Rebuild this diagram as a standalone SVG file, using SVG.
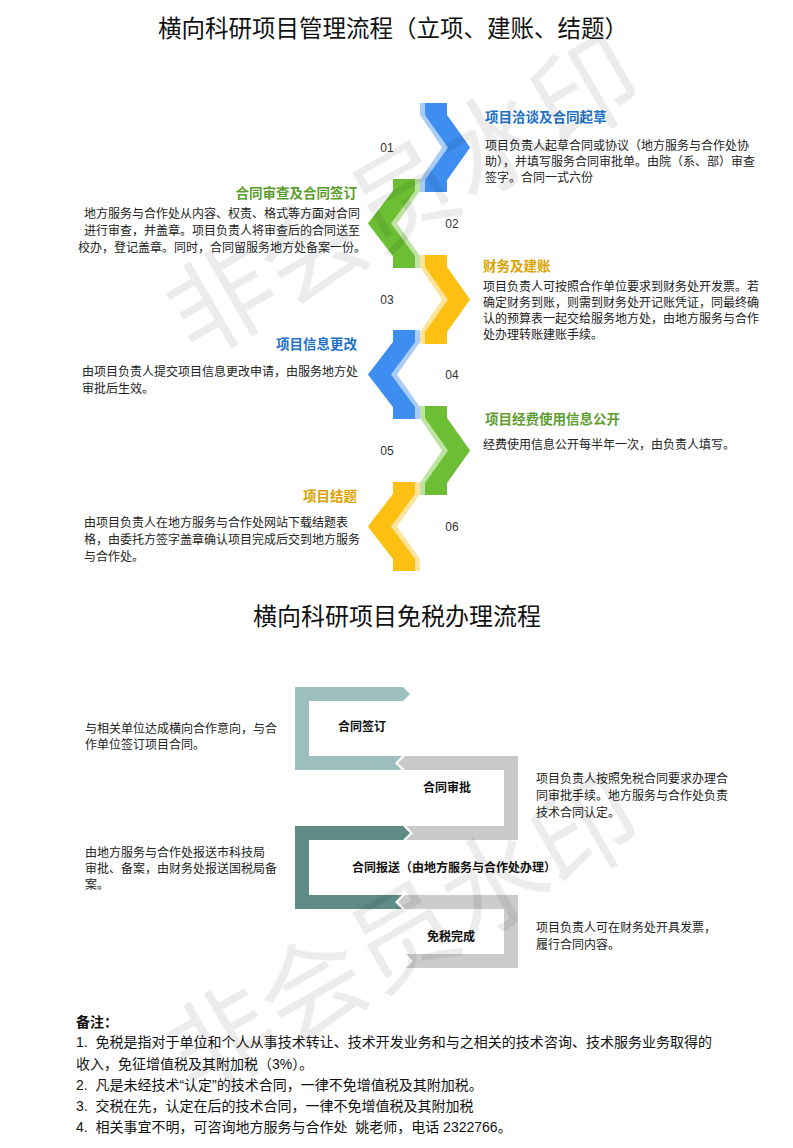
<svg xmlns="http://www.w3.org/2000/svg" width="793" height="1148" viewBox="0 0 793 1148">
<style>
text{font-family:"Liberation Sans","Noto Sans CJK SC",sans-serif;fill:#222}
.t1{font-size:23.5px;fill:#111}
.h{font-size:13.5px;font-weight:bold}
.b{font-size:12px}
.n{font-size:12px;fill:#333}
.hb{fill:#1f72c8}.hg{fill:#5c9e2e}.hy{fill:#d9a400}
.lb{fill:#a9cdf7}.db{fill:#3d8ef0}
.lg{fill:#bfe3a3}.dg{fill:#6cbf35}
.ly{fill:#fde49c}.dy{fill:#fcbf12}
.fl{font-size:12px;font-weight:bold;fill:#111}
.nt{font-size:14px;fill:#111}
.wm{font-size:105px;fill:#000;fill-opacity:0.075}
</style>
<defs>
<polygon id="rl" points="420,0 447,0 447,12 470,44.5 447,77 447,89 420,89 420,77 442,44.5 420,12"/>
<polygon id="rd" points="425,0 447,0 447,12 470,44.5 447,77 447,89 425,89 425,77 448,44.5 425,12"/>
<polygon id="ll" points="420,0 393,0 393,12 368,44.5 393,77 393,89 420,89 420,77 397,44.5 420,12"/>
<polygon id="ld" points="415,0 393,0 393,12 368,44.5 393,77 393,89 415,89 415,77 391,44.5 415,12"/>
</defs>
<rect width="793" height="1148" fill="#fff"/>
<text class="t1" x="393" y="37" text-anchor="middle">横向科研项目管理流程（立项、建账、结题）</text>

<g id="connectors">
<g id="seg1" transform="translate(0,103)"><use href="#rl" class="lb"/><use href="#rd" class="db"/></g>
<g id="seg2" transform="translate(0,179)"><use href="#ll" class="lg"/><use href="#ld" class="dg"/></g>
<g id="seg3" transform="translate(0,255)"><use href="#rl" class="ly"/><use href="#rd" class="dy"/></g>
<g id="seg4" transform="translate(0,330)"><use href="#ll" class="lb"/><use href="#ld" class="db"/></g>
<g id="seg5" transform="translate(0,406)"><use href="#rl" class="lg"/><use href="#rd" class="dg"/></g>
<g id="seg6" transform="translate(0,482)"><use href="#ll" class="ly"/><use href="#ld" class="dy"/></g>
</g>

<g id="step01">
<text class="n" x="387" y="152" text-anchor="middle">01</text>
<text class="h hb" x="485" y="122">项目洽谈及合同起草</text>
<text class="b" x="485" y="150">项目负责人起草合同或协议（地方服务与合作处协</text>
<text class="b" x="485" y="166">助），并填写服务合同审批单。由院（系、部）审查</text>
<text class="b" x="485" y="182">签字。合同一式六份</text>
</g>
<g id="step02">
<text class="n" x="452" y="228" text-anchor="middle">02</text>
<text class="h hg" x="357" y="198" text-anchor="end">合同审查及合同签订</text>
<text class="b" x="222" y="218" text-anchor="middle">地方服务与合作处从内容、权责、格式等方面对合同</text>
<text class="b" x="222" y="235" text-anchor="middle">进行审查，并盖章。项目负责人将审查后的合同送至</text>
<text class="b" x="222" y="252" text-anchor="middle">校办，登记盖章。同时，合同留服务地方处备案一份。</text>
</g>
<g id="step03">
<text class="n" x="387" y="304" text-anchor="middle">03</text>
<text class="h hy" x="483" y="271">财务及建账</text>
<text class="b" x="483" y="291">项目负责人可按照合作单位要求到财务处开发票。若</text>
<text class="b" x="483" y="307">确定财务到账，则需到财务处开记账凭证，同最终确</text>
<text class="b" x="483" y="323">认的预算表一起交给服务地方处，由地方服务与合作</text>
<text class="b" x="483" y="339">处办理转账建账手续。</text>
</g>
<g id="step04">
<text class="n" x="452" y="379" text-anchor="middle">04</text>
<text class="h hb" x="357" y="349" text-anchor="end">项目信息更改</text>
<text class="b" x="82" y="376">由项目负责人提交项目信息更改申请，由服务地方处</text>
<text class="b" x="82" y="393">审批后生效。</text>
</g>
<g id="step05">
<text class="n" x="387" y="455" text-anchor="middle">05</text>
<text class="h hg" x="485" y="424">项目经费使用信息公开</text>
<text class="b" x="483" y="449">经费使用信息公开每半年一次，由负责人填写。</text>
</g>
<g id="step06">
<text class="n" x="452" y="531" text-anchor="middle">06</text>
<text class="h hy" x="357" y="501" text-anchor="end">项目结题</text>
<text class="b" x="84" y="527">由项目负责人在地方服务与合作处网站下载结题表</text>
<text class="b" x="84" y="544">格，由委托方签字盖章确认项目完成后交到地方服务</text>
<text class="b" x="84" y="561">与合作处。</text>
</g>

<text class="t1" x="397" y="625" text-anchor="middle" style="font-size:24px">横向科研项目免税办理流程</text>

<g id="flow1">
<path d="M295,687 H403 L410,694 L403,701 H309 V756 H402 L395,763 L402,770 H295 Z" fill="#9dbfbd"/>
<text class="fl" x="338" y="731">合同签订</text>
<text class="b" x="85" y="733">与相关单位达成横向合作意向，与合</text>
<text class="b" x="85" y="749">作单位签订项目合同。</text>
</g>
<g id="flow2">
<path d="M405,756 H518 V840 H406 L413,833 L406,826 H504 V770 H405 L398,763 Z" fill="#c9c9c9"/>
<text class="fl" x="423" y="792">合同审批</text>
<text class="b" x="536" y="783">项目负责人按照免税合同要求办理合</text>
<text class="b" x="536" y="800">同审批手续。地方服务与合作处负责</text>
<text class="b" x="536" y="817">技术合同认定。</text>
</g>
<g id="flow3">
<path d="M295,826 H403 L410,833 L403,840 H309 V895 H402 L395,902 L402,909 H295 Z" fill="#5e8b85"/>
<text class="fl" x="352" y="872">合同报送（由地方服务与合作处办理）</text>
<text class="b" x="85" y="857">由地方服务与合作处报送市科技局</text>
<text class="b" x="85" y="873">审批、备案，由财务处报送国税局备</text>
<text class="b" x="85" y="889">案。</text>
</g>
<g id="flow4">
<path d="M405,895 H518 V968 H406 L413,961 L406,954 H504 V909 H405 L398,902 Z" fill="#cccccc"/>
<text class="fl" x="427" y="941">免税完成</text>
<text class="b" x="536" y="932">项目负责人可在财务处开具发票，</text>
<text class="b" x="536" y="949">履行合同内容。</text>
</g>

<g id="notes">
<text class="nt" x="76" y="1027" font-weight="bold">备注：</text>
<text class="nt" x="76" y="1047" textLength="636" lengthAdjust="spacing">1.&#160; 免税是指对于单位和个人从事技术转让、技术开发业务和与之相关的技术咨询、技术服务业务取得的</text>
<text class="nt" x="76" y="1069">收入，免征增值税及其附加税（3%）。</text>
<text class="nt" x="76" y="1090">2.&#160; 凡是未经技术“认定”的技术合同，一律不免增值税及其附加税。</text>
<text class="nt" x="76" y="1111">3.&#160; 交税在先，认定在后的技术合同，一律不免增值税及其附加税</text>
<text class="nt" x="76" y="1132">4.&#160; 相关事宜不明，可咨询地方服务与合作处&#160; 姚老师，电话 2322766。</text>
</g>

<text class="wm" transform="translate(195,360) rotate(-30)">非会员水印</text>
<text class="wm" transform="translate(195,1100) rotate(-30)">非会员水印</text>
</svg>
